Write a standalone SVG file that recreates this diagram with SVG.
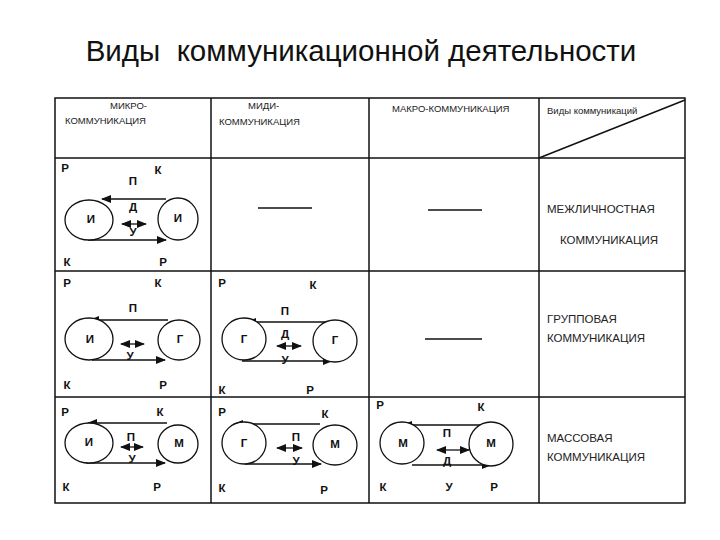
<svg xmlns="http://www.w3.org/2000/svg" width="720" height="540" viewBox="0 0 720 540">
<style>
.title{font-family:"Liberation Sans",Arial,sans-serif;font-size:29.5px;fill:#111}
.hdr{font-family:"Liberation Sans",Arial,sans-serif;font-size:9.5px;fill:#222}
.kind{font-family:"Liberation Sans",Arial,sans-serif;font-size:11.5px;fill:#222}
.lb{font-family:"Liberation Sans",Arial,sans-serif;font-size:11.5px;font-weight:bold;fill:#111;text-anchor:middle}
.grid{stroke:#111;stroke-width:1.5;fill:none}
.ell{stroke:#111;stroke-width:1.3;fill:#fff}
.ln{stroke:#111;stroke-width:1.3;fill:none}
.arr{stroke:#111;stroke-width:1.3;fill:none;marker-end:url(#ah)}
.dbl{stroke:#111;stroke-width:1.3;fill:none;marker-end:url(#ah);marker-start:url(#ah)}
</style>
<defs>
<marker id="ah" markerUnits="userSpaceOnUse" markerWidth="10" markerHeight="8" refX="9" refY="4" orient="auto-start-reverse">
<path d="M0,0 L10,4 L0,8 z" fill="#111"/>
</marker>
</defs>
<rect width="720" height="540" fill="#fff"/>
<text class="title" x="361" y="61" text-anchor="middle" xml:space="preserve">Виды  коммуникационной деятельности</text>

<g id="table">
<rect class="grid" x="55" y="98" width="630" height="405"/>
<line class="grid" x1="55" y1="158" x2="685" y2="158"/>
<line class="grid" x1="55" y1="271" x2="685" y2="271"/>
<line class="grid" x1="55" y1="397" x2="685" y2="397"/>
<line class="grid" x1="211" y1="98" x2="211" y2="503"/>
<line class="grid" x1="369" y1="98" x2="369" y2="503"/>
<line class="grid" x1="539" y1="98" x2="539" y2="503"/>
<line class="grid" x1="539" y1="158" x2="685" y2="100"/>
</g>

<g id="headers">
<text class="hdr" x="110" y="109">МИКРО-</text>
<text class="hdr" x="65" y="124">КОММУНИКАЦИЯ</text>
<text class="hdr" x="248" y="109">МИДИ-</text>
<text class="hdr" x="219" y="125">КОММУНИКАЦИЯ</text>
<text class="hdr" x="392" y="112">МАКРО-КОММУНИКАЦИЯ</text>
<text class="hdr" x="547" y="114">Виды коммуникаций</text>
<text class="kind" x="547" y="213">МЕЖЛИЧНОСТНАЯ</text>
<text class="kind" x="560" y="244">КОММУНИКАЦИЯ</text>
<text class="kind" x="547" y="323">ГРУППОВАЯ</text>
<text class="kind" x="547" y="342">КОММУНИКАЦИЯ</text>
<text class="kind" x="547" y="442">МАССОВАЯ</text>
<text class="kind" x="547" y="461">КОММУНИКАЦИЯ</text>
</g>

<g id="connectors">
<line class="arr" x1="166" y1="199" x2="102" y2="199"/>
<line class="arr" x1="88" y1="240" x2="166" y2="240"/>
<line class="dbl" x1="122" y1="224" x2="146" y2="224"/>
<line class="ln" x1="258" y1="208" x2="312" y2="208"/>
<line class="ln" x1="428" y1="210" x2="482" y2="210"/>
<line class="arr" x1="168" y1="320" x2="90" y2="320"/>
<line class="arr" x1="92" y1="360" x2="165" y2="360"/>
<line class="dbl" x1="121" y1="344" x2="144" y2="344"/>
<line class="arr" x1="332" y1="322" x2="247" y2="322"/>
<line class="arr" x1="242" y1="361" x2="332" y2="361"/>
<line class="dbl" x1="277" y1="346" x2="301" y2="346"/>
<line class="ln" x1="425" y1="339" x2="482" y2="339"/>
<line class="arr" x1="167" y1="423" x2="88" y2="423"/>
<line class="arr" x1="86" y1="463" x2="165" y2="463"/>
<line class="dbl" x1="121" y1="447" x2="143" y2="447"/>
<line class="arr" x1="320" y1="424" x2="234" y2="424"/>
<line class="arr" x1="245" y1="464" x2="321" y2="464"/>
<line class="dbl" x1="277" y1="448" x2="302" y2="448"/>
<line class="arr" x1="481" y1="425" x2="403" y2="425"/>
<line class="arr" x1="412" y1="465" x2="491" y2="465"/>
<line class="dbl" x1="437" y1="450" x2="469" y2="450"/>
</g>

<g id="n-micro-inter-left"><ellipse class="ell" cx="89" cy="220" rx="24" ry="20"/><text class="lb" x="91" y="223">И</text></g>
<g id="n-micro-inter-right"><ellipse class="ell" cx="178" cy="219" rx="20" ry="21"/><text class="lb" x="178" y="222">И</text></g>
<g id="n-micro-group-left"><ellipse class="ell" cx="89" cy="339" rx="24" ry="21"/><text class="lb" x="90" y="343">И</text></g>
<g id="n-micro-group-right"><ellipse class="ell" cx="179" cy="340" rx="21" ry="20"/><text class="lb" x="180" y="343">Г</text></g>
<g id="n-midi-group-left"><ellipse class="ell" cx="244" cy="339" rx="22" ry="21"/><text class="lb" x="244" y="343">Г</text></g>
<g id="n-midi-group-right"><ellipse class="ell" cx="335" cy="341" rx="22" ry="21"/><text class="lb" x="335" y="344">Г</text></g>
<g id="n-micro-mass-left"><ellipse class="ell" cx="89" cy="443" rx="24" ry="20"/><text class="lb" x="89" y="446">И</text></g>
<g id="n-micro-mass-right"><ellipse class="ell" cx="178" cy="444" rx="20" ry="19"/><text class="lb" x="179" y="447">М</text></g>
<g id="n-midi-mass-left"><ellipse class="ell" cx="244" cy="443" rx="22" ry="21"/><text class="lb" x="244" y="447">Г</text></g>
<g id="n-midi-mass-right"><ellipse class="ell" cx="335" cy="445" rx="22" ry="20"/><text class="lb" x="335" y="448">М</text></g>
<g id="n-macro-mass-left"><ellipse class="ell" cx="402" cy="443" rx="22" ry="21"/><text class="lb" x="403" y="447">М</text></g>
<g id="n-macro-mass-right"><ellipse class="ell" cx="491" cy="444" rx="22" ry="22"/><text class="lb" x="491" y="447">М</text></g>

<g id="labels">
<text class="lb" x="65" y="172">Р</text>
<text class="lb" x="158" y="174">К</text>
<text class="lb" x="133" y="185">П</text>
<text class="lb" x="133" y="211">Д</text>
<text class="lb" x="133" y="236">У</text>
<text class="lb" x="67" y="266">К</text>
<text class="lb" x="163" y="266">Р</text>

<text class="lb" x="67" y="287">Р</text>
<text class="lb" x="158" y="287">К</text>
<text class="lb" x="133" y="312">П</text>
<text class="lb" x="130" y="360">У</text>
<text class="lb" x="67" y="389">К</text>
<text class="lb" x="163" y="389">Р</text>

<text class="lb" x="222" y="287">Р</text>
<text class="lb" x="313" y="289">К</text>
<text class="lb" x="285" y="315">П</text>
<text class="lb" x="285" y="338">Д</text>
<text class="lb" x="285" y="364">У</text>
<text class="lb" x="222" y="394">К</text>
<text class="lb" x="310" y="394">Р</text>

<text class="lb" x="65" y="416">Р</text>
<text class="lb" x="160" y="416">К</text>
<text class="lb" x="131" y="441">П</text>
<text class="lb" x="132" y="463">У</text>
<text class="lb" x="66" y="491">К</text>
<text class="lb" x="157" y="491">Р</text>

<text class="lb" x="222" y="416">Р</text>
<text class="lb" x="325" y="418">К</text>
<text class="lb" x="296" y="441">П</text>
<text class="lb" x="296" y="465">У</text>
<text class="lb" x="222" y="492">К</text>
<text class="lb" x="324" y="494">Р</text>

<text class="lb" x="380" y="409">Р</text>
<text class="lb" x="481" y="411">К</text>
<text class="lb" x="447" y="437">П</text>
<text class="lb" x="447" y="465">Д</text>
<text class="lb" x="383" y="491">К</text>
<text class="lb" x="449" y="491">У</text>
<text class="lb" x="494" y="491">Р</text>
</g>
</svg>
